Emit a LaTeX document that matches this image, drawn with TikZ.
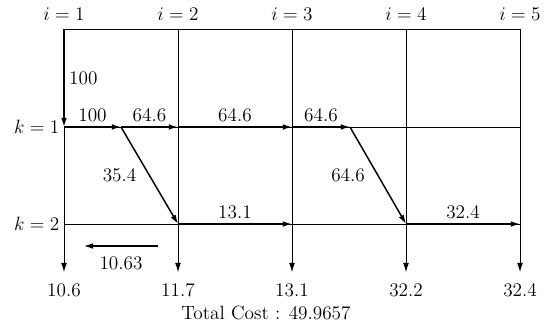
\documentclass[tikz,border=0pt]{standalone}
\usepackage{amsmath}
\usetikzlibrary{arrows.meta,positioning}

\begin{document}
\begin{tikzpicture}[
  grid/.style={line width=0.5pt},
  flow/.style={-{Latex[length=2.4mm,width=1.5mm]}, line width=1.1pt},
  drop/.style={-{Latex[length=2.4mm,width=1.5mm]}, line width=0.5pt},
  back/.style={-{Latex[length=2.4mm,width=1.5mm]}, line width=0.8pt},
  every node/.style={font=\Large}
]
\useasboundingbox (0,0) rectangle (14.342,-8.632);

% grid points, column heads and end values
\foreach \i/\x/\v in {1/1.684/10.6,2/4.684/11.7,3/7.684/13.1,4/10.684/32.2,5/13.684/32.4}{
  \coordinate (t\i) at (\x,-0.763);
  \coordinate (a\i) at (\x,-3.342);
  \coordinate (b\i) at (\x,-5.895);
  \coordinate (e\i) at (\x,-7.158);
  \node (col\i) at (\x,-0.37) {$i=\i$};
  \node (val\i) at (\x,-7.64) {\v};
}
\coordinate (m1) at (3.184,-3.342);
\coordinate (m2) at (9.21,-3.342);
\coordinate (r1) at (4.158,-6.474);
\coordinate (r2) at (2.211,-6.474);

\node[left=0pt of a1] (k1) {$k=1$};
\node[left=0pt of b1] (k2) {$k=2$};

% grid
\draw[grid] (t1) -- (t5);
\draw[grid] (a1) -- (a5);
\draw[grid] (b1) -- (b5);
\foreach \i in {2,...,5}
  \draw[drop] (t\i) -- (e\i);
\draw[drop] (a1) -- (e1);

% flows
\draw[flow] (t1) -- node[right] {100} (a1);
\draw[flow] (a1) -- node[above] {100} (m1);
\draw[flow] (m1) -- node[above] {64.6} (a2);
\draw[flow] (a2) -- node[above] {64.6} (a3);
\draw[flow] (a3) -- node[above] {64.6} (m2);
\draw[flow] (m1) -- node[left=6pt] {35.4} (b2);
\draw[flow] (m2) -- node[left=6pt] {64.6} (b4);
\draw[flow] (b2) -- node[above] {13.1} (b3);
\draw[flow] (b4) -- node[above] {32.4} (b5);
\draw[back] (r1) -- node[below=4pt] {10.63} (r2);

\node (total) at (7.0,-8.24) {Total Cost : 49.9657};

\end{tikzpicture}
\end{document}
